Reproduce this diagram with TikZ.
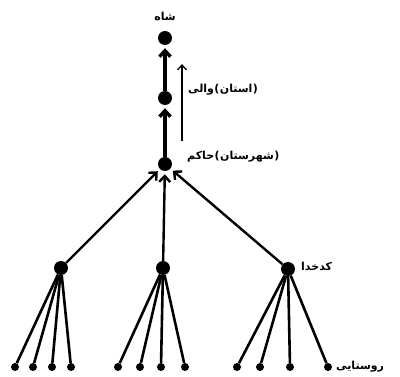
\documentclass[tikz,border=0pt]{standalone}
\usepackage{fontspec}
\newfontfamily\arabicfont[Script=Arabic]{DejaVu Sans}
\newfontfamily\plainfont{DejaVu Sans}
\TeXXeTstate=1
\usetikzlibrary{arrows.meta}

\begin{document}
\begin{tikzpicture}[x=1pt, y=-1pt,
      bigdot/.style={circle, fill=black, inner sep=0pt, minimum size=14pt},
      smalldot/.style={circle, fill=black, inner sep=0pt, minimum size=8pt},
      arr/.style={-{Straight Barb[length=6pt, width=11pt]}, line width=2.4pt, shorten >=3pt},
      twig/.style={line width=2.6pt},
      lbl/.style={font=\fontsize{11}{13}\selectfont\bfseries, inner sep=0pt},
      nxt/.style={lbl, anchor=base west}
    ]
      \useasboundingbox (0,0) rectangle (400,377);
      % the chain of rulers
      \node[bigdot] (shah) at (165,38) {};
      \node[bigdot] (vali) at (165,98) {};
      \node[bigdot] (hakem) at (165,164) {};
      \node[lbl, above=10pt] (shahlbl) at (shah.north) {\arabicfont\beginR شاه\endR};
      % "vali (ostan)", piece by piece from left to right
      \node[lbl, anchor=west] (valiw) at (188,90) {\arabicfont\beginR والی\endR};
      \node[nxt] (valio) at (valiw.base east) {\plainfont(};
      \node[nxt] (valip) at (valio.base east) {\arabicfont\beginR استان\endR};
      \node[nxt] (valic) at (valip.base east) {\plainfont)};
      % "hakem (shahrestan)"
      \node[lbl, anchor=west] (hakemw) at (187,157) {\arabicfont\beginR حاکم\endR};
      \node[nxt] (hakemo) at (hakemw.base east) {\plainfont(};
      \node[nxt] (hakemp) at (hakemo.base east) {\arabicfont\beginR شهرستان\endR};
      \node[nxt] (hakemc) at (hakemp.base east) {\plainfont)};
      \draw[arr, line width=3.4pt] (vali) -- (shah);
      \draw[arr, line width=3.4pt] (hakem) -- (vali);
      \coordinate (up1) at (182,141);
      \coordinate (up2) at (182,64);
      \draw[-{Straight Barb[length=5pt, width=9pt]}, line width=1.3pt] (up1) -- (up2);
      % headmen
      \node[bigdot] (kd1) at (61,268) {};
      \node[bigdot] (kd2) at (163,268) {};
      \node[bigdot] (kd3) at (288,269) {};
      \node[lbl, anchor=west] (kdlbl) at (301,266) {\arabicfont\beginR کدخدا\endR};
      \foreach \k in {1,2,3}
        \draw[arr] (kd\k) -- (hakem);
      % villagers
      \foreach \x [count=\i] in {15,33,52,71}
        {\node[smalldot] (ra\i) at (\x,367) {};
         \draw[twig] (ra\i) -- (kd1);}
      \foreach \x [count=\i] in {118,140,161,185}
        {\node[smalldot] (rb\i) at (\x,367) {};
         \draw[twig] (rb\i) -- (kd2);}
      \foreach \x [count=\i] in {237,260,290,328}
        {\node[smalldot] (rc\i) at (\x,367) {};
         \draw[twig] (rc\i) -- (kd3);}
      \node[lbl, anchor=west] (rlbl) at (336,367) {\arabicfont\beginR روستایی\endR};
    \end{tikzpicture}
\end{document}
